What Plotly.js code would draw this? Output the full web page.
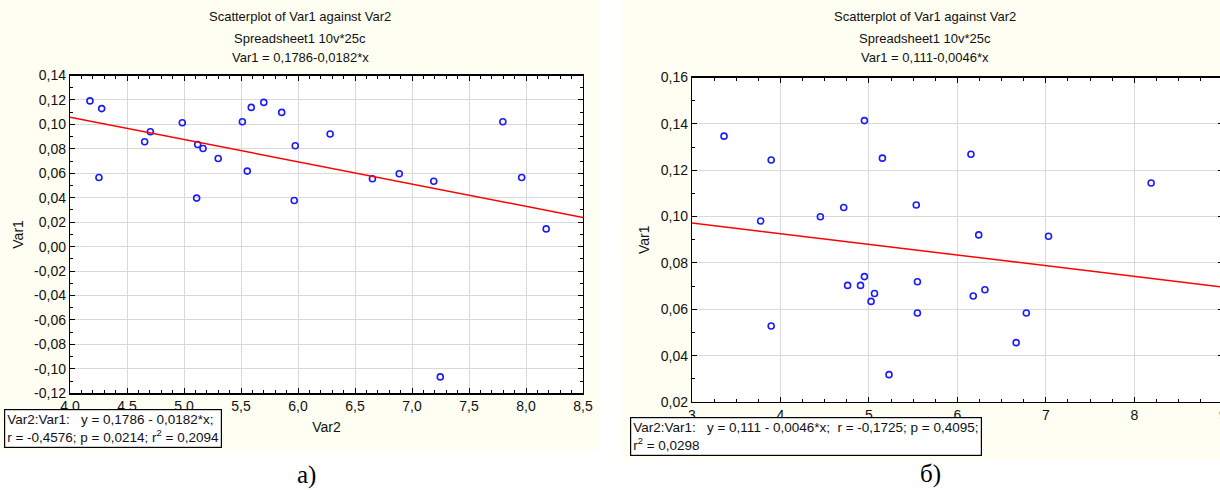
<!DOCTYPE html>
<html>
<head>
<meta charset="utf-8">
<script src="https://cdn.plot.ly/plotly-3.0.1.min.js"></script>
<style>
html,body{margin:0;padding:0;overflow:hidden;background:#fff;}
#chart{width:1230px;height:490px;}
</style>
</head>
<body>
<div id="chart"></div>
<script>
// ---- data ----
const leftVar2 = [4.175,4.278,4.254,4.655,4.705,4.985,5.12,5.167,5.111,5.30,5.512,5.555,5.59,5.70,5.857,5.976,5.967,6.282,6.653,6.888,7.191,7.797,7.962,8.177,7.248];
const leftVar1 = [0.1192,0.1129,0.0566,0.0858,0.0940,0.1014,0.0836,0.0803,0.0397,0.0721,0.1022,0.0618,0.1139,0.1180,0.1098,0.0825,0.0377,0.0921,0.0555,0.0596,0.0535,0.1022,0.0566,0.0145,-0.1066];
const leftFit = {intercept: 0.1786, slope: -0.0182};

const rightVar2 = [3.362,3.776,3.895,4.451,4.715,4.949,5.152,5.535,6.153,6.241,7.03,8.19,3.895,4.759,4.905,4.949,5.063,5.024,5.227,5.548,5.548,6.179,6.311,6.664,6.779];
const rightVar1 = [0.1347,0.0981,0.1244,0.0999,0.1039,0.1414,0.1252,0.1050,0.1269,0.0921,0.0915,0.1145,0.0528,0.0703,0.0703,0.0741,0.0668,0.0634,0.0318,0.0719,0.0584,0.0657,0.0684,0.0456,0.0584];
const rightFit = {intercept: 0.111, slope: -0.0046};

const leftXTicks = [4.0,4.5,5.0,5.5,6.0,6.5,7.0,7.5,8.0,8.5];
const leftXLabels = ["4,0","4,5","5,0","5,5","6,0","6,5","7,0","7,5","8,0","8,5"];
const leftYTicks = [-0.12,-0.10,-0.08,-0.06,-0.04,-0.02,0.00,0.02,0.04,0.06,0.08,0.10,0.12,0.14];
const leftYLabels = ["-0,12","-0,10","-0,08","-0,06","-0,04","-0,02","0,00","0,02","0,04","0,06","0,08","0,10","0,12","0,14"];
const rightXTicks = [3,4,5,6,7,8,9];
const rightXLabels = ["3","4","5","6","7","8","9"];
const rightYTicks = [0.02,0.04,0.06,0.08,0.10,0.12,0.14,0.16];
const rightYLabels = ["0,02","0,04","0,06","0,08","0,10","0,12","0,14","0,16"];

const leftTitle = ["Scatterplot of Var1 against Var2","Spreadsheet1 10v*25c","Var1 = 0,1786-0,0182*x"];
const rightTitle = ["Scatterplot of Var1 against Var2","Spreadsheet1 10v*25c","Var1 = 0,111-0,0046*x"];
const leftStats = "Var2:Var1:   y = 0,1786 - 0,0182*x;<br>r = -0,4576; p = 0,0214; r<sup>2</sup> = 0,2094";
const rightStats = "Var2:Var1:   y = 0,111 - 0,0046*x;  r = -0,1725; p = 0,4095;<br>r<sup>2</sup> = 0,0298";

// ---- layout helpers ----
const W = 1230, H = 490;
const px = v => v / W;
const py = v => 1 - v / H;
const SANS = "Liberation Sans, Arial, sans-serif";
const CREAM = "#fffef2";

const leftRange = [4.0, 8.5], rightRange = [3, 9];

const markerStyle = {symbol: "circle-open", size: 6, color: "#1a1aff", line: {width: 1.6, color: "#1a1aff"}};
const lineStyle = {color: "#ff0000", width: 1.5};

const traces = [
  {x: leftVar2, y: leftVar1, type: "scatter", mode: "markers", marker: markerStyle, xaxis: "x", yaxis: "y"},
  {x: leftRange, y: leftRange.map(v => leftFit.intercept + leftFit.slope * v), type: "scatter", mode: "lines", line: lineStyle, xaxis: "x", yaxis: "y"},
  {x: rightVar2, y: rightVar1, type: "scatter", mode: "markers", marker: markerStyle, xaxis: "x2", yaxis: "y2"},
  {x: rightRange, y: rightRange.map(v => rightFit.intercept + rightFit.slope * v), type: "scatter", mode: "lines", line: lineStyle, xaxis: "x2", yaxis: "y2"}
];

function axis(opts) {
  return Object.assign({
    showline: true, linecolor: "#000", linewidth: 1.2, mirror: "ticks",
    ticks: "inside", ticklen: 5, tickcolor: "#000", tickwidth: 1,
    showgrid: true, gridcolor: "#d9d9d9", gridwidth: 1, zeroline: false,
    tickmode: "array", tickfont: {family: SANS, size: 14, color: "#111"},
    fixedrange: true
  }, opts);
}

const layout = {
  width: W, height: H,
  margin: {l: 0, r: 0, t: 0, b: 0},
  paper_bgcolor: "#ffffff", plot_bgcolor: "#ffffff",
  showlegend: false,
  xaxis: axis({domain: [px(70), px(583)], range: leftRange, tickvals: leftXTicks, ticktext: leftXLabels,
    minor: {tickmode: "linear", tick0: 4.0, dtick: 0.1, ticks: "inside", ticklen: 3, tickcolor: "#000", showgrid: false},
    title: {text: "Var2", font: {family: SANS, size: 14, color: "#111"}, standoff: 9}, anchor: "y"}),
  yaxis: axis({domain: [py(393.3), py(75.5)], range: [-0.12, 0.14], tickvals: leftYTicks, ticktext: leftYLabels,
    minor: {tickmode: "linear", tick0: 0, dtick: 0.01, ticks: "inside", ticklen: 3, tickcolor: "#000", showgrid: false},
    title: {text: "Var1", font: {family: SANS, size: 14, color: "#111"}, standoff: 7}, anchor: "x"}),
  xaxis2: axis({domain: [px(692), px(1222.8)], range: rightRange, tickvals: rightXTicks, ticktext: rightXLabels,
    minor: {tickmode: "linear", tick0: 3, dtick: 0.25, ticks: "inside", ticklen: 3, tickcolor: "#000", showgrid: false},
    anchor: "y2"}),
  yaxis2: axis({domain: [py(402), py(77.5)], range: [0.02, 0.16], tickvals: rightYTicks, ticktext: rightYLabels,
    minor: {tickmode: "linear", tick0: 0.02, dtick: 0.01, ticks: "inside", ticklen: 3, tickcolor: "#000", showgrid: false},
    title: {text: "Var1", font: {family: SANS, size: 14, color: "#111"}, standoff: 7}, anchor: "x2"}),
  shapes: [
    {type: "rect", xref: "paper", yref: "paper", x0: px(0), x1: px(600), y0: py(450), y1: py(0), fillcolor: CREAM, line: {width: 0}, layer: "below"},
    {type: "rect", xref: "paper", yref: "paper", x0: px(621), x1: px(1230), y0: py(460), y1: py(0), fillcolor: CREAM, line: {width: 0}, layer: "below"},
    {type: "rect", xref: "paper", yref: "paper", x0: px(70), x1: px(583), y0: py(393.3), y1: py(75.5), fillcolor: "#ffffff", line: {width: 0}, layer: "below"},
    {type: "rect", xref: "paper", yref: "paper", x0: px(692), x1: px(1222.8), y0: py(402), y1: py(77.5), fillcolor: "#ffffff", line: {width: 0}, layer: "below"}
  ],
  annotations: []
};

const titleYs = [17, 38, 58];
leftTitle.forEach((t, i) => layout.annotations.push({text: t, xref: "paper", yref: "paper", x: px(300), y: py(titleYs[i]), xanchor: "center", yanchor: "middle", showarrow: false, font: {family: SANS, size: 13, color: "#111"}}));
rightTitle.forEach((t, i) => layout.annotations.push({text: t, xref: "paper", yref: "paper", x: px(925), y: py(titleYs[i]), xanchor: "center", yanchor: "middle", showarrow: false, font: {family: SANS, size: 13, color: "#111"}}));

layout.annotations.push({text: leftStats, xref: "paper", yref: "paper", x: px(4), y: py(409.3), xanchor: "left", yanchor: "top", align: "left", showarrow: false,
  bgcolor: "#ffffff", bordercolor: "#000", borderwidth: 1.2, borderpad: 2, font: {family: SANS, size: 13.5, color: "#111"}});
layout.annotations.push({text: rightStats, xref: "paper", yref: "paper", x: px(630), y: py(417), xanchor: "left", yanchor: "top", align: "left", showarrow: false,
  bgcolor: "#ffffff", bordercolor: "#000", borderwidth: 1.2, borderpad: 2, font: {family: SANS, size: 13.5, color: "#111"}});

layout.annotations.push({text: "а)", xref: "paper", yref: "paper", x: px(306), y: py(475), xanchor: "center", yanchor: "middle", showarrow: false, font: {family: "Liberation Serif, Times New Roman, serif", size: 25, color: "#000"}});
layout.annotations.push({text: "б)", xref: "paper", yref: "paper", x: px(930), y: py(474), xanchor: "center", yanchor: "middle", showarrow: false, font: {family: "Liberation Serif, Times New Roman, serif", size: 25, color: "#000"}});

Plotly.newPlot("chart", traces, layout, {staticPlot: true, displayModeBar: false});
</script>
</body>
</html>
